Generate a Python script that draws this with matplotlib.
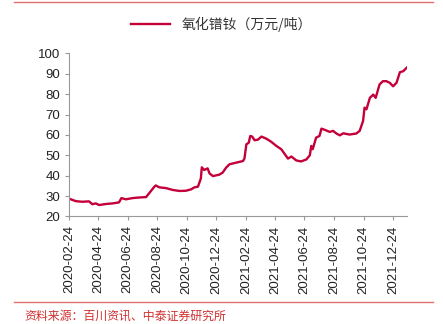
import pandas as pd
import numpy as np
import matplotlib.pyplot as plt
import matplotlib.dates as mdates
from matplotlib.lines import Line2D

plt.rcParams['font.family'] = ['Liberation Sans', 'Noto Sans CJK SC', 'DejaVu Sans']

# price of PrNd oxide
dates = ["2020-02-24", "2020-03-09", "2020-03-22", "2020-04-05", "2020-04-12", "2020-04-19",
         "2020-04-26", "2020-05-10", "2020-05-24", "2020-06-06", "2020-06-11", "2020-06-20",
         "2020-07-04", "2020-07-18", "2020-08-01", "2020-08-08", "2020-08-18", "2020-08-21",
         "2020-08-28", "2020-09-11", "2020-09-25", "2020-10-09", "2020-10-22", "2020-11-02",
         "2020-11-09", "2020-11-16", "2020-11-19", "2020-11-22", "2020-11-24", "2020-11-29",
         "2020-12-06", "2020-12-10", "2020-12-17", "2020-12-30", "2021-01-06", "2021-01-13",
         "2021-01-20", "2021-02-03", "2021-02-17", "2021-02-20", "2021-02-24", "2021-03-01",
         "2021-03-04", "2021-03-08", "2021-03-13", "2021-03-20", "2021-03-27", "2021-04-06",
         "2021-04-16", "2021-04-27", "2021-05-07", "2021-05-17", "2021-05-21", "2021-05-28",
         "2021-06-07", "2021-06-17", "2021-06-28", "2021-07-05", "2021-07-08", "2021-07-11",
         "2021-07-18", "2021-07-25", "2021-07-29", "2021-08-05", "2021-08-15", "2021-08-22",
         "2021-08-29", "2021-09-05", "2021-09-12", "2021-09-25", "2021-10-09", "2021-10-16",
         "2021-10-23", "2021-10-26", "2021-10-30", "2021-11-06", "2021-11-13", "2021-11-18",
         "2021-11-26", "2021-12-03", "2021-12-10", "2021-12-17", "2021-12-24", "2021-12-31",
         "2022-01-07", "2022-01-14", "2022-01-21"]
prices = [28.7, 27.5, 27.2, 27.4, 26.0, 26.4,
          25.6, 26.1, 26.4, 26.9, 29.0, 28.4,
          29.0, 29.3, 29.5, 31.6, 34.6, 35.2,
          34.3, 33.9, 33.0, 32.5, 32.6, 33.3,
          34.3, 34.6, 36.6, 38.6, 44.1, 42.8,
          43.6, 41.1, 39.8, 40.5, 41.5, 43.9,
          45.6, 46.4, 47.2, 48.4, 55.4, 56.2,
          59.5, 59.2, 57.4, 57.7, 59.2, 58.2,
          56.7, 54.6, 53.0, 49.7, 48.4, 49.4,
          47.5, 47.0, 48.0, 50.0, 54.6, 53.0,
          58.7, 59.5, 63.1, 62.5, 61.5, 62.0,
          60.7, 59.8, 60.8, 60.2, 60.7, 62.0,
          66.9, 73.4, 72.6, 78.2, 79.8, 78.2,
          84.8, 86.4, 86.4, 85.6, 83.9, 85.6,
          90.8, 91.3, 93.0]
tick_dates = ["2020-02-24", "2020-04-24", "2020-06-24", "2020-08-24", "2020-10-24", "2020-12-24",
              "2021-02-24", "2021-04-24", "2021-06-24", "2021-08-24", "2021-10-24", "2021-12-24"]

x = pd.to_datetime(dates)
ticks = pd.to_datetime(tick_dates)

red = '#C4003A'
grey = '#999999'

fig = plt.figure(figsize=(4.43, 3.24), dpi=100)
ax = fig.add_axes([0.156, 0.332, 0.762, 0.503])

ax.plot(x, prices, color=red, linewidth=1.7)

ax.set_ylim(20, 100)
ax.set_yticks(range(20, 101, 10))
ax.set_xlim(x[0], x[-1])
ax.set_xticks(ticks)
ax.xaxis.set_major_formatter(mdates.DateFormatter('%Y-%m-%d'))
plt.setp(ax.get_xticklabels(), rotation=90)

for s in ['top', 'right']:
	ax.spines[s].set_visible(False)
for s in ['left', 'bottom']:
	ax.spines[s].set_color(grey)
	ax.spines[s].set_linewidth(0.8)
ax.tick_params(axis='both', colors=grey, labelcolor='#222222', labelsize=9.5, length=3, width=0.8)

handle = Line2D([0], [0], color=red, linewidth=1.7)
fig.legend([handle], ["氧化镨钕（万元/吨）"], loc='center', bbox_to_anchor=(0.5, 0.925),
	frameon=False, handlelength=2.8, labelcolor='#333333',
	prop={'family': ['Noto Sans CJK SC', 'DejaVu Sans'], 'size': 10})

# red rules top and bottom
fig.add_artist(Line2D([14/443, 433/443], [1 - 1.5/324, 1 - 1.5/324], color='#E07070', linewidth=1.0))
fig.add_artist(Line2D([14/443, 433/443], [1 - 302/324, 1 - 302/324], color='#E07070', linewidth=1.0))

fig.text(24/443, 1 - 316/324, "资料来源：百川资讯、中泰证券研究所", color='#D03030', fontsize=8.6,
	va='center', ha='left', family=['Noto Sans CJK SC', 'DejaVu Sans'])

fig.savefig("out.png", dpi=100)
